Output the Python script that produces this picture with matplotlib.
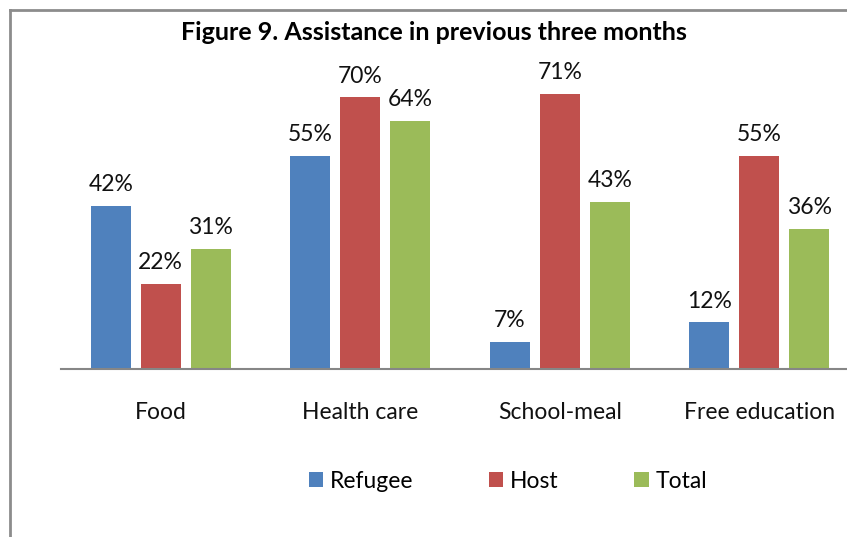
import numpy as np
import matplotlib.pyplot as plt
from matplotlib.lines import Line2D

categories = ['Food', 'Health care', 'School-meal', 'Free education']
refugee = [42, 55, 7, 12]
host = [22, 70, 71, 55]
total = [31, 64, 43, 36]

series = [('Refugee', refugee, '#4f81bd'),
          ('Host', host, '#c0504d'),
          ('Total', total, '#9bbb59')]

plt.rcParams['font.family'] = ['Lato', 'DejaVu Sans']

W, H = 847, 537
fig = plt.figure(figsize=(W/100, H/100), dpi=100)

# plot area: baseline at y=369px, 199.5px per category, starts x=61px
ax = fig.add_axes([61/W, (H-369)/H, 798/W, 310.4/H])
x = np.arange(len(categories))
bw = 0.2005
step = 0.2506
fs = 16.5
for i, (name, vals, col) in enumerate(series):
    pos = x + (i-1)*step
    bars = ax.bar(pos, vals, width=bw, color=col, label=name, zorder=2)
    for b, v in zip(bars, vals):
        ax.text(b.get_x()+b.get_width()/2, v+2.8, f'{v}%', ha='center', va='bottom',
                fontsize=fs, color='#111111')

ax.set_xlim(-0.5, 3.5)
ax.set_ylim(0, 80)
ax.set_yticks([])
ax.set_xticks(x)
ax.set_xticklabels(categories, fontsize=fs, color='#111111')
ax.tick_params(axis='x', length=0, pad=24)
for s in ['top', 'right', 'left']:
    ax.spines[s].set_visible(False)
ax.spines['bottom'].set_color('#868686')
ax.spines['bottom'].set_linewidth(1.5)

fig.text(434/W, 1-32.5/H, 'Figure 9. Assistance in previous three months', ha='center', va='center',
         fontsize=18, fontweight='bold', color='#000000')

leg = fig.legend(loc='center', bbox_to_anchor=(508/W, 1-481/H), ncol=3, frameon=False,
                 fontsize=fs, handlelength=0.62, handleheight=0.62, handletextpad=0.3,
                 columnspacing=3.3)

# chart border (top and left edges visible)
fig.add_artist(Line2D([10/W, 10/W], [0, 1-9.5/H], transform=fig.transFigure,
                      color='#8c8c8c', lw=2))
fig.add_artist(Line2D([10/W, 1], [1-9.5/H, 1-9.5/H], transform=fig.transFigure,
                      color='#8c8c8c', lw=2))

fig.savefig('out.png', dpi=100)
